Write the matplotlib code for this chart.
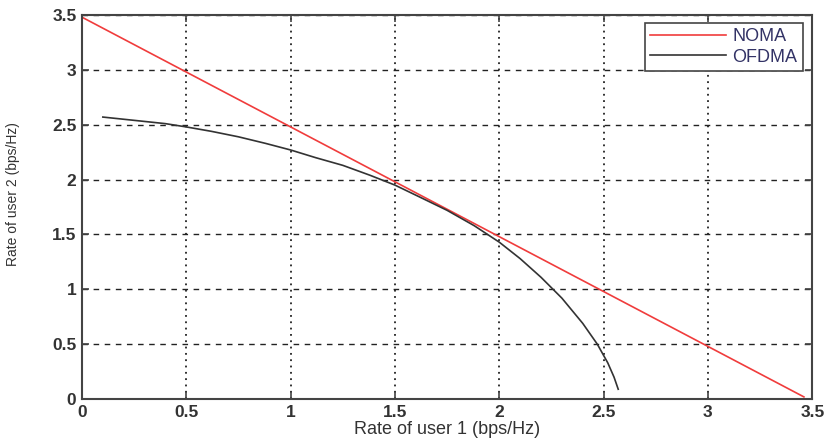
import matplotlib
matplotlib.use("Agg")
import matplotlib.pyplot as plt

# NOMA capacity boundary
noma_r1 = [0.0, 0.5, 1.0, 1.5, 2.0, 2.5, 3.0, 3.46]
noma_r2 = [3.48, 2.98, 2.48, 1.98, 1.48, 0.98, 0.48, 0.02]

# OFDMA rate region boundary
ofdma_r1 = [0.10, 0.20, 0.30, 0.40, 0.50, 0.62, 0.75, 0.88, 1.00, 1.12,
            1.25, 1.38, 1.50, 1.62, 1.75, 1.88, 2.00, 2.10, 2.20, 2.30,
            2.40, 2.47, 2.52, 2.55, 2.57]
ofdma_r2 = [2.57, 2.55, 2.53, 2.51, 2.48, 2.44, 2.39, 2.33, 2.27, 2.20,
            2.13, 2.04, 1.95, 1.84, 1.72, 1.58, 1.43, 1.28, 1.11, 0.92,
            0.69, 0.50, 0.33, 0.20, 0.09]

ticks = [0, 0.5, 1, 1.5, 2, 2.5, 3, 3.5]
tick_labels = ["0", "0.5", "1", "1.5", "2", "2.5", "3", "3.5"]

plt.rcParams['font.family'] = ['Liberation Sans', 'DejaVu Sans']

fig = plt.figure(figsize=(8.28, 4.41), dpi=100)
ax = fig.add_axes([0.099, 0.095, 0.882, 0.871])

ax.plot(noma_r1, noma_r2, color='#f03c3c', linewidth=1.2, label='NOMA')
ax.plot(ofdma_r1, ofdma_r2, color='#333333', linewidth=1.2, label='OFDMA')

ax.set_xlim(0, 3.5)
ax.set_ylim(0, 3.5)
ax.set_xticks(ticks)
ax.set_xticklabels(tick_labels)
ax.set_yticks(ticks)
ax.set_yticklabels(tick_labels)

# MATLAB-like grid: dotted verticals, dashed horizontals
ax.xaxis.grid(True, linestyle=(0, (1, 2.5)), color='#222222', linewidth=1.3)
ax.yaxis.grid(True, linestyle=(0, (4, 4)), color='#222222', linewidth=1.0)
ax.set_axisbelow(True)

for s in ax.spines.values():
    s.set_color('#444444')
    s.set_linewidth(1.5)
ax.tick_params(direction='in', top=True, right=True, length=5, width=1.2,
               color='#444444', labelsize=12.5, labelcolor='#333333', pad=4)
for lab in ax.get_xticklabels() + ax.get_yticklabels():
    lab.set_fontweight('bold')

ax.set_xlabel('Rate of user 1 (bps/Hz)', fontsize=13, color='#333333', labelpad=1)
ax.set_ylabel('Rate of user 2 (bps/Hz)', fontsize=10, color='#333333')
ax.yaxis.set_label_coords(-0.085, 0.535)

leg = ax.legend(loc='upper right', fontsize=13, handlelength=4.2,
                frameon=True, fancybox=False, borderpad=0.3,
                labelspacing=0.2, handletextpad=0.35, borderaxespad=0,
                bbox_to_anchor=(0.987, 0.98))
leg.get_frame().set_edgecolor('#444444')
leg.get_frame().set_linewidth(1.2)
leg.get_frame().set_alpha(1)
for t in leg.get_texts():
    t.set_color('#333366')

fig.savefig('out.png', dpi=100)
